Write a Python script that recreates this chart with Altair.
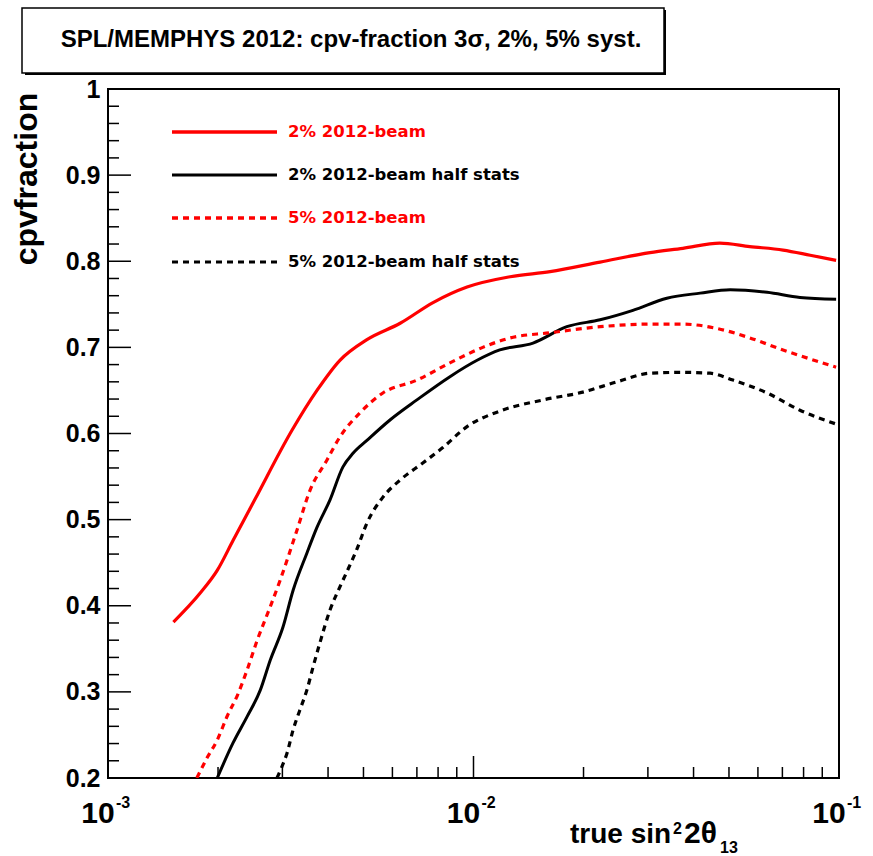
import altair as alt
import pandas as pd

# ---------------- data ----------------
title_text = "SPL/MEMPHYS 2012: cpv-fraction 3\u03c3, 2%, 5% syst."

x_red_solid = [0.00151, 0.00179, 0.00199, 0.00220, 0.00252, 0.00319, 0.00373, 0.00431,
               0.00511, 0.00630, 0.00775, 0.00960, 0.0126, 0.0162, 0.0222, 0.0304, 0.0374,
               0.0472, 0.0570, 0.0703, 0.0834, 0.0982]
y_red_solid = [0.381, 0.415, 0.441, 0.476, 0.523, 0.604, 0.650, 0.685,
               0.709, 0.728, 0.752, 0.770, 0.782, 0.788, 0.799, 0.810, 0.815,
               0.821, 0.817, 0.813, 0.807, 0.801]

x_black_solid = [0.00199, 0.00220, 0.00240, 0.00261, 0.00278, 0.00301, 0.00321, 0.00350, 0.00373,
                 0.00405, 0.00439, 0.00468, 0.00511, 0.00592, 0.00700, 0.00862, 0.01023, 0.0118,
                 0.01455, 0.0180, 0.0222, 0.0273, 0.0338, 0.0417, 0.0504, 0.0636, 0.0782, 0.0982]
y_black_solid = [0.200, 0.241, 0.271, 0.302, 0.337, 0.375, 0.418, 0.461, 0.491,
                 0.523, 0.561, 0.577, 0.592, 0.616, 0.639, 0.666, 0.685, 0.697,
                 0.705, 0.724, 0.732, 0.743, 0.757, 0.763, 0.767, 0.764, 0.758, 0.756]

x_red_dash = [0.00175, 0.00187, 0.00199, 0.00212, 0.00226, 0.00240, 0.00256, 0.00278, 0.00296,
              0.00309, 0.00329, 0.00357, 0.00397, 0.00431, 0.00489, 0.00565, 0.00700, 0.00862,
              0.0106, 0.0126, 0.0162, 0.0222, 0.0304, 0.0374, 0.0463, 0.0570, 0.0703, 0.0982]
y_red_dash = [0.200, 0.224, 0.244, 0.272, 0.296, 0.325, 0.360, 0.399, 0.430,
              0.453, 0.488, 0.534, 0.569, 0.596, 0.624, 0.647, 0.662, 0.682,
              0.700, 0.711, 0.717, 0.724, 0.727, 0.727, 0.722, 0.711, 0.697, 0.677]

x_black_dash = [0.00290, 0.00299, 0.00309, 0.00321, 0.00335, 0.00350, 0.00364, 0.00380, 0.00405,
                0.00431, 0.00451, 0.00480, 0.00511, 0.00565, 0.00630, 0.00728, 0.00826, 0.00960,
                0.0118, 0.0155, 0.0199, 0.0247, 0.0304, 0.0374, 0.0444, 0.0513, 0.0636, 0.0782, 0.0982]
y_black_dash = [0.200, 0.213, 0.229, 0.256, 0.279, 0.302, 0.329, 0.357, 0.395,
                0.422, 0.440, 0.466, 0.496, 0.526, 0.546, 0.566, 0.584, 0.608,
                0.626, 0.639, 0.648, 0.660, 0.670, 0.671, 0.670, 0.662, 0.647, 0.627, 0.611]

legend_labels = ["2% 2012-beam", "2% 2012-beam half stats", "5% 2012-beam", "5% 2012-beam half stats"]
legend_colors = ["#ff0000", "#000000", "#ff0000", "#000000"]
legend_dashed = [False, False, True, True]

y_major = [0.2, 0.3, 0.4, 0.5, 0.6, 0.7, 0.8, 0.9, 1.0]
y_minor = [0.22, 0.24, 0.26, 0.28, 0.32, 0.34, 0.36, 0.38, 0.42, 0.44, 0.46, 0.48,
           0.52, 0.54, 0.56, 0.58, 0.62, 0.64, 0.66, 0.68, 0.72, 0.74, 0.76, 0.78,
           0.82, 0.84, 0.86, 0.88, 0.92, 0.94, 0.96, 0.98]
x_major = [0.001, 0.01, 0.1]
x_minor = [0.002, 0.003, 0.004, 0.005, 0.006, 0.007, 0.008, 0.009,
           0.02, 0.03, 0.04, 0.05, 0.06, 0.07, 0.08, 0.09]
x_label_base = ["10", "10", "10"]
x_label_exp = ["-3", "-2", "-1"]

# ---------------- layout ----------------
W, H = 731, 689
FONT = "Liberation Sans"

xscale = alt.Scale(type="log", domain=[0.001, 0.1], nice=False)
yscale = alt.Scale(domain=[0.2, 1.0], nice=False, zero=False)
yaxis = alt.Axis(values=y_major, format="~g", labelFont=FONT, labelFontWeight="bold",
                 labelFontSize=25, labelColor="black", ticks=False, domain=False, grid=False,
                 labelPadding=8, labelOverlap=False, labelFlush=False, title=None)

X = lambda f: alt.X(f, scale=xscale, axis=None)
Y = lambda f: alt.Y(f, scale=yscale, axis=yaxis)

layers = []

# ticks (drawn inside the frame, ROOT style)
layers.append(alt.Chart(pd.DataFrame({"v": y_major})).mark_rule(color="black", strokeWidth=1.5)
              .encode(y=Y("v:Q"), x=alt.value(0), x2=alt.value(23)))
layers.append(alt.Chart(pd.DataFrame({"v": y_minor})).mark_rule(color="black", strokeWidth=1.5)
              .encode(y=Y("v:Q"), x=alt.value(0), x2=alt.value(11)))
layers.append(alt.Chart(pd.DataFrame({"v": x_major})).mark_rule(color="black", strokeWidth=1.5)
              .encode(x=X("v:Q"), y=alt.value(H), y2=alt.value(H - 22)))
layers.append(alt.Chart(pd.DataFrame({"v": x_minor})).mark_rule(color="black", strokeWidth=1.5)
              .encode(x=X("v:Q"), y=alt.value(H), y2=alt.value(H - 11)))

# curves
curves = [
    (x_red_solid, y_red_solid, "#ff0000", False, 3.2),
    (x_black_solid, y_black_solid, "#000000", False, 3.0),
    (x_red_dash, y_red_dash, "#ff0000", True, 3.2),
    (x_black_dash, y_black_dash, "#000000", True, 3.2),
]
for xs, ys, col, dashed, w in curves:
    kw = dict(color=col, strokeWidth=w, clip=True, interpolate="monotone")
    if dashed:
        kw["strokeDash"] = [6, 5]
    layers.append(alt.Chart(pd.DataFrame({"x": xs, "y": ys})).mark_line(**kw)
                  .encode(x=X("x:Q"), y=Y("y:Q")))

# x tick labels 10^n
xl = pd.DataFrame({"v": x_major, "base": x_label_base, "exp": x_label_exp})
layers.append(alt.Chart(xl).mark_text(font=FONT, fontSize=30, fontWeight="bold", align="center",
                                      baseline="alphabetic", dx=-10, color="black")
              .encode(x=X("v:Q"), y=alt.value(734), text="base:N"))
layers.append(alt.Chart(xl).mark_text(font=FONT, fontSize=16, fontWeight="bold", align="left",
                                      baseline="alphabetic", dx=8, color="black")
              .encode(x=X("v:Q"), y=alt.value(719), text="exp:N"))

# axis titles
def txt(s, x, y, size, align="left", baseline="alphabetic", angle=None, font=FONT):
    kw = dict(font=font, fontSize=size, fontWeight="bold", align=align, baseline=baseline, color="black")
    if angle is not None:
        kw["angle"] = angle
    return (alt.Chart(pd.DataFrame({"t": [s]})).mark_text(**kw)
            .encode(x=alt.value(x), y=alt.value(y), text="t:N"))

layers.append(txt("cpvfraction", -81, 90, 32, align="center", baseline="middle", angle=270))
layers.append(txt("true sin", 462, 754, 28))
layers.append(txt("2", 565, 745, 16))
layers.append(txt("2\u03b8", 576, 754, 30))
layers.append(txt("13", 612, 764, 16))

# legend
legend_y = [43, 86, 129, 173]
for lab, col, dashed, ly in zip(legend_labels, legend_colors, legend_dashed, legend_y):
    kw = dict(color=col, strokeWidth=3.5 if col == "#ff0000" else 3)
    if dashed:
        kw["strokeDash"] = [6, 5]
    layers.append(alt.Chart(pd.DataFrame({"t": [lab]})).mark_rule(**kw)
                  .encode(x=alt.value(64), x2=alt.value(169), y=alt.value(ly)))
    layers.append(alt.Chart(pd.DataFrame({"t": [lab]}))
                  .mark_text(font="DejaVu Sans", fontSize=16.5, fontWeight="bold", align="left",
                             baseline="middle", color=col)
                  .encode(x=alt.value(180), y=alt.value(ly), text="t:N"))

# title box with shadow
layers.append(alt.Chart(pd.DataFrame({"t": [title_text]})).mark_rect(fill="black")
              .encode(x=alt.value(-83), x2=alt.value(558), y=alt.value(-79), y2=alt.value(-14)))
layers.append(alt.Chart(pd.DataFrame({"t": [title_text]})).mark_rect(fill="white", stroke="black", strokeWidth=1.5)
              .encode(x=alt.value(-86), x2=alt.value(556), y=alt.value(-81), y2=alt.value(-16)))
layers.append(txt(title_text, 243, -49, 24, align="center", baseline="middle"))

chart = alt.layer(*layers).properties(
    width=W, height=H,
    autosize=alt.AutoSizeParams(type="none"),
    padding={"left": 108, "top": 89, "right": 34, "bottom": 78},
    background="white",
).configure_view(stroke="black", strokeWidth=2)

chart.save("out.html", embed_options={"renderer": "svg", "actions": False})
